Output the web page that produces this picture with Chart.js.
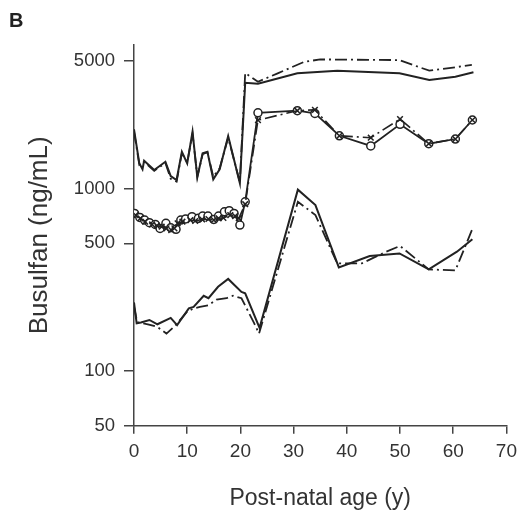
<!DOCTYPE html>
<html>
<head>
<meta charset="utf-8">
<script src="https://cdn.jsdelivr.net/npm/chart.js@4.4.1/dist/chart.umd.min.js"></script>
<style>
  html, body { margin: 0; padding: 0; background: #fff; }
  #wrap { width: 524px; height: 515px; }
</style>
</head>
<body>
<div id="wrap"><canvas id="chart" width="524" height="515"></canvas></div>
<script>
// ---- data (age in years, busulfan ng/mL) ----
const topSolidAge  = [0, 1.0, 1.6, 1.9, 3.8, 5.9, 6.9, 8.0, 9.0, 10.0, 11.0, 11.9, 12.9, 13.8, 14.9, 16.1, 17.7, 19.9, 20.9, 23.3, 30.7, 38.2, 49.9, 55.5, 60.4, 63.8];
const topSolidConc = [2110, 1374, 1273, 1419, 1262, 1401, 1170, 1112, 1590, 1374, 2047, 1151, 1559, 1590, 1122, 1273, 1940, 1067, 3800, 3750, 4280, 4425, 4280, 3935, 4100, 4335];

const topDashAge  = [0, 1.0, 1.9, 3.8, 5.9, 6.9, 8.0, 9.0, 10.0, 11.0, 11.9, 12.9, 13.8, 14.9, 16.1, 17.7, 19.9, 20.9, 23.3, 27.0, 32.0, 35.0, 49.9, 52.4, 55.5, 60.4, 63.5];
const topDashConc = [2050, 1350, 1400, 1250, 1380, 1130, 1090, 1560, 1390, 2000, 1160, 1540, 1580, 1160, 1290, 1900, 1080, 4300, 3850, 4280, 4950, 5100, 5060, 4760, 4425, 4620, 4760];

const circleAge  = [0.1, 1.1, 2.0, 2.9, 4.0, 4.9, 6.0, 6.9, 7.9, 8.8, 9.7, 10.9, 12.1, 12.9, 13.9, 15.0, 15.9, 17.0, 17.9, 18.8, 19.9, 20.9, 23.3, 30.7, 34.0, 38.6, 44.5, 50.0, 55.4, 60.4, 63.6];
const circleConc = [730, 694, 671, 649, 635, 604, 644, 609, 597, 671, 680, 700, 686, 706, 706, 676, 706, 745, 755, 730, 630, 845, 2600, 2670, 2580, 1945, 1710, 2248, 1760, 1867, 2374];

const crossAge  = [0.3, 1.2, 2.1, 3.4, 4.3, 5.2, 6.1, 7.0, 7.6, 8.2, 9.1, 10.6, 11.5, 12.8, 14.0, 15.0, 15.9, 16.8, 18.1, 19.0, 19.7, 20.9, 23.3, 30.7, 34.0, 38.6, 44.5, 50.0, 55.4, 60.4, 63.6];
const crossConc = [714, 686, 657, 635, 625, 617, 604, 591, 604, 644, 657, 671, 663, 676, 680, 671, 686, 690, 714, 706, 686, 820, 2370, 2670, 2700, 1945, 1898, 2403, 1760, 1867, 2374];

const lowSolidAge  = [0, 0.5, 1.3, 2.9, 4.4, 6.9, 8.1, 10.3, 11.2, 13.1, 14.0, 15.8, 17.7, 20.2, 20.9, 23.6, 30.8, 34.1, 38.5, 44.3, 49.9, 55.4, 60.7, 63.6];
const lowSolidConc = [237, 182, 184, 190, 180, 195, 178, 220, 224, 258, 250, 289, 319, 271, 266, 172, 985, 811, 369, 426, 440, 360, 450, 526];

const lowDashAge  = [0, 0.6, 2.6, 4.4, 6.1, 7.5, 10.0, 11.2, 12.4, 14.0, 15.5, 17.4, 18.6, 20.2, 22.6, 23.5, 30.8, 34.1, 38.2, 42.8, 47.4, 50.0, 55.4, 60.4, 63.6];
const lowDashConc = [225, 185, 180, 174, 160, 174, 211, 220, 224, 229, 246, 250, 258, 250, 182, 160, 845, 715, 388, 388, 450, 484, 360, 355, 600];

const yTicks = [50, 100, 500, 1000, 5000];
const xTicks = [0, 10, 20, 30, 40, 50, 60, 70];

const pts = (xs, ys) => xs.map((x, i) => ({ x: x, y: ys[i] }));

const INK = "#222";
const AXIS = "#444";
const FONT = "'Liberation Sans', Arial, sans-serif";
const DASHDOT = [12, 4, 2, 4];

const panelLabel = {
  id: "panelLabel",
  afterDraw(chart) {
    const ctx = chart.ctx;
    ctx.save();
    ctx.fillStyle = "#222";
    ctx.font = "bold 20px " + FONT;
    ctx.textBaseline = "alphabetic";
    ctx.fillText("B", 9, 27);
    ctx.restore();
  }
};

new Chart(document.getElementById("chart"), {
  type: "scatter",
  data: {
    datasets: [
      { data: pts(topSolidAge, topSolidConc), showLine: true, borderColor: INK, borderWidth: 2, pointRadius: 0, order: 5 },
      { data: pts(topDashAge, topDashConc), showLine: true, borderColor: INK, borderWidth: 1.8, borderDash: DASHDOT, pointRadius: 0, order: 6 },
      { data: pts(lowSolidAge, lowSolidConc), showLine: true, borderColor: INK, borderWidth: 2, pointRadius: 0, order: 3 },
      { data: pts(lowDashAge, lowDashConc), showLine: true, borderColor: INK, borderWidth: 1.8, borderDash: DASHDOT, pointRadius: 0, order: 4 },
      { data: pts(circleAge, circleConc), showLine: true, borderColor: INK, borderWidth: 1.8,
        pointStyle: "circle", pointRadius: 4, pointBorderWidth: 1.5, pointBackgroundColor: "#fff", pointBorderColor: INK, order: 2 },
      { data: pts(crossAge, crossConc), showLine: true, borderColor: INK, borderWidth: 1.6, borderDash: DASHDOT,
        pointStyle: "crossRot", pointRadius: 4, pointBorderWidth: 1.5, pointBorderColor: INK, order: 1 }
    ]
  },
  options: {
    responsive: false,
    animation: false,
    layout: { padding: { top: 45, right: 12.3, bottom: 0, left: 0 } },
    plugins: { legend: { display: false }, tooltip: { enabled: false } },
    scales: {
      x: {
        type: "linear",
        min: 0,
        max: 70,
        afterFit: s => { s.height = 89.3; },
        afterBuildTicks: s => { s.ticks = xTicks.map(v => ({ value: v })); },
        border: { display: true, color: AXIS, width: 1.5 },
        grid: { display: true, drawOnChartArea: false, drawTicks: true, tickLength: 8, color: AXIS, lineWidth: 1.5 },
        ticks: { color: "#333", font: { family: FONT, size: 19 }, padding: 7, maxRotation: 0 },
        title: { display: true, text: "Post-natal age (y)", color: "#333", font: { family: FONT, size: 23 }, padding: { top: 0, bottom: 3 } }
      },
      y: {
        type: "logarithmic",
        min: 50,
        max: 6120,
        afterFit: s => { s.width = 134; },
        afterBuildTicks: s => { s.ticks = yTicks.map(v => ({ value: v })); },
        border: { display: true, color: AXIS, width: 1.5 },
        grid: { display: true, drawOnChartArea: false, drawTicks: true, tickLength: 10, color: AXIS, lineWidth: 1.5 },
        ticks: { color: "#333", font: { family: FONT, size: 18.5 }, padding: 9, callback: v => String(v) },
        title: { display: true, text: "Busulfan (ng/mL)", color: "#333", font: { family: FONT, size: 26 }, padding: { top: 24, bottom: 0 } }
      }
    }
  },
  plugins: [panelLabel]
});
</script>
</body>
</html>
